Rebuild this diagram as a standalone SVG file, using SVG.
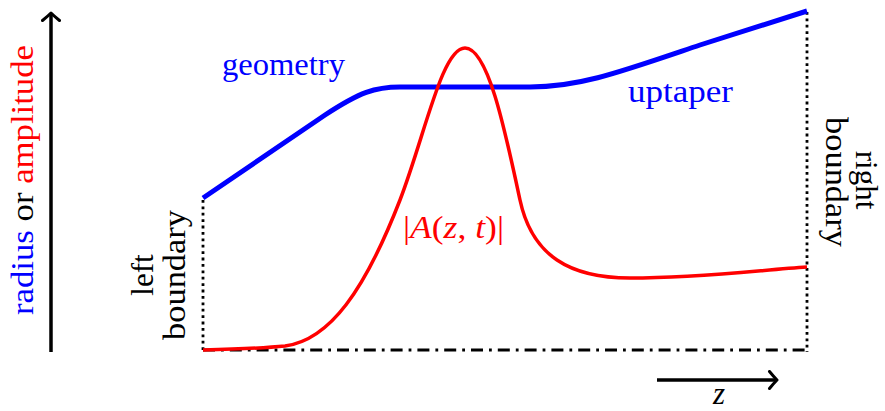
<svg xmlns="http://www.w3.org/2000/svg" width="885" height="411" viewBox="0 0 885 411">
<style>
  text { font-family: "Liberation Serif", "Times New Roman", serif; font-size: 31px; }
  .blue { fill: #0000ff; }
  .red { fill: #ff0000; }
  .blk { fill: #000000; }
  .axis { stroke: #000; stroke-width: 3.5; fill: none; }
  .dotted { stroke: #000; stroke-width: 2.8; stroke-dasharray: 2.8 3.6; fill: none; }
  .dashdot { stroke: #000; stroke-width: 2.8; stroke-dasharray: 12 6 2.8 6; fill: none; }
  .geom { stroke: #0000ff; stroke-width: 5; fill: none; stroke-linejoin: round; }
  .amp { stroke: #ff0000; stroke-width: 3.5; fill: none; stroke-linejoin: round; }
</style>
<defs>
  <marker id="tip" markerUnits="userSpaceOnUse" markerWidth="20" markerHeight="20" viewBox="-10 -10 20 20" refX="0" refY="0" orient="auto">
    <path d="M-7.5,-8.5 Q-3,-3 0,0 Q-3,3 -7.5,8.5" fill="none" stroke="#000" stroke-width="3" stroke-linecap="round" stroke-linejoin="round"/>
  </marker>
</defs>

<g id="connectors">
  <line id="y-axis" class="axis" x1="51" y1="352" x2="51" y2="13" marker-end="url(#tip)"/>
  <line id="z-arrow" class="axis" x1="657" y1="380" x2="777" y2="380" marker-end="url(#tip)"/>
  <line id="left-boundary-line" class="dotted" x1="203" y1="200" x2="203" y2="350"/>
  <line id="right-boundary-line" class="dotted" x1="807" y1="12" x2="807" y2="352"/>
  <line id="baseline" class="dashdot" x1="203" y1="350" x2="807" y2="350"/>
</g>

<g id="geometry-curve">
  <path class="geom" d="M203,198 L325,115 C360,92 375,87 400,87 L530,87 C580,87 620,72 700,45 L807,11"/>
</g>

<g id="amplitude-curve">
  <path class="amp" d="M203,350 C240,349 270,347.5 285,346 C330,340 365,290 400,200 C425,135 442,48 465,48 C488,48 505,130 520,200 C532,256 570,278 630,278 C700,278 760,270 807,267"/>
</g>

<g id="axis-label">
  <text transform="translate(33,180) rotate(-90)" text-anchor="middle" textLength="270" lengthAdjust="spacingAndGlyphs"><tspan class="blue">radius</tspan><tspan class="blk"> or </tspan><tspan class="red">amplitude</tspan></text>
</g>

<g id="geometry-label">
  <text class="blue" x="222" y="75" textLength="123" lengthAdjust="spacingAndGlyphs">geometry</text>
</g>

<g id="uptaper-label">
  <text class="blue" x="628" y="102" textLength="105" lengthAdjust="spacingAndGlyphs">uptaper</text>
</g>

<g id="amplitude-label">
  <text class="red" x="403" y="238" textLength="101" lengthAdjust="spacingAndGlyphs">|<tspan font-style="italic">A</tspan>(<tspan font-style="italic">z</tspan>, <tspan font-style="italic">t</tspan>)|</text>
</g>

<g id="left-boundary">
  <text class="blk" transform="translate(153,275) rotate(-90)" text-anchor="middle">left</text>
  <text class="blk" transform="translate(185,275) rotate(-90)" text-anchor="middle" textLength="130" lengthAdjust="spacingAndGlyphs">boundary</text>
</g>

<g id="right-boundary">
  <text class="blk" transform="translate(856,180) rotate(90)" text-anchor="middle">right</text>
  <text class="blk" transform="translate(826,182) rotate(90)" text-anchor="middle" textLength="130" lengthAdjust="spacingAndGlyphs">boundary</text>
</g>

<g id="z-label">
  <text class="blk" x="719" y="404" text-anchor="middle" font-style="italic">z</text>
</g>
</svg>
